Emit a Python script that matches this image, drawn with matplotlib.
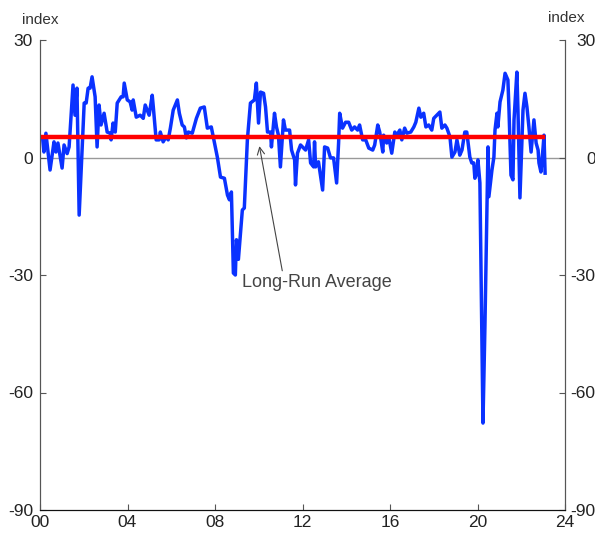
import numpy as np
import matplotlib.pyplot as plt

plt.rcParams['font.family'] = ['Liberation Sans', 'DejaVu Sans']
plt.rcParams['axes.unicode_minus'] = False

# years since 2000 and index values
years = [0.12, 0.18, 0.27, 0.46, 0.64, 0.73, 0.82, 1.01, 1.10, 1.24, 1.33, 1.51, 1.60, 1.69, 1.79,
         2.02, 2.11, 2.20, 2.29, 2.38, 2.52, 2.61, 2.70, 2.79, 2.93, 3.07, 3.21, 3.25, 3.34, 3.44,
         3.53, 3.71, 3.80, 3.85, 3.99, 4.12, 4.21, 4.26, 4.40, 4.58, 4.72, 4.81, 4.90, 4.99, 5.13,
         5.18, 5.31, 5.45, 5.50, 5.63, 5.77, 5.86, 5.96, 6.09, 6.28, 6.37, 6.50, 6.60, 6.69, 6.78,
         6.96, 7.15, 7.24, 7.33, 7.51, 7.65, 7.83, 7.92, 8.11, 8.25, 8.43, 8.57, 8.66, 8.75, 8.84,
         8.93, 8.98, 9.07, 9.25, 9.34, 9.48, 9.62, 9.80, 9.89, 9.99, 10.08, 10.22, 10.31, 10.40, 10.54,
         10.58, 10.72, 10.81, 10.90, 10.99, 11.13, 11.22, 11.41, 11.50, 11.64, 11.68, 11.77, 11.91, 12.14, 12.28,
         12.37, 12.51, 12.55, 12.60, 12.73, 12.92, 13.01, 13.15, 13.28, 13.42, 13.56, 13.65, 13.70, 13.83, 13.97,
         14.11, 14.25, 14.38, 14.52, 14.61, 14.75, 14.89, 15.03, 15.21, 15.30, 15.44, 15.53, 15.67, 15.71, 15.85,
         15.94, 16.08, 16.22, 16.31, 16.45, 16.54, 16.67, 16.77, 16.95, 17.09, 17.18, 17.32, 17.41, 17.54, 17.64,
         17.77, 17.91, 18.00, 18.14, 18.28, 18.37, 18.51, 18.60, 18.74, 18.83, 18.97, 19.06, 19.19, 19.29, 19.42,
         19.51, 19.65, 19.74, 19.83, 19.88, 19.97, 20.02, 20.11, 20.25, 20.34, 20.48, 20.52, 20.66, 20.75, 20.80,
         20.89, 20.93, 21.03, 21.16, 21.26, 21.39, 21.44, 21.53, 21.62, 21.67, 21.80, 21.85, 21.94, 22.08, 22.17,
         22.26, 22.35, 22.45, 22.54, 22.58, 22.68, 22.77, 22.81, 22.90, 23.00, 23.04, 23.09]
index = [5.0, 1.4, 6.2, -3.2, 4.0, 1.4, 3.7, -2.7, 3.2, 1.0, 2.7, 18.5, 10.8, 17.7, -14.7,
         13.9, 13.9, 17.7, 17.7, 20.6, 15.5, 2.7, 13.4, 8.3, 11.3, 6.5, 6.2, 4.5, 8.8, 6.5,
         13.9, 15.5, 15.5, 19.0, 14.7, 14.2, 12.1, 14.7, 10.3, 10.8, 10.0, 13.4, 12.1, 10.8, 15.9,
         12.9, 4.5, 4.5, 6.5, 4.0, 5.3, 4.5, 7.5, 12.1, 14.7, 11.3, 8.3, 7.8, 5.0, 6.5,
         6.2, 10.0, 11.3, 12.6, 12.9, 7.5, 7.8, 5.3, 0.0, -5.0, -5.3, -9.6, -10.8, -8.8, -29.5,
         -30.0, -21.0, -26.0, -13.4, -12.9, 4.5, 13.9, 14.7, 19.0, 8.8, 16.7, 16.4, 12.9, 6.5, 6.5,
         2.7, 11.3, 7.8, 5.7, -2.4, 9.6, 7.0, 7.0, 1.9, -0.6, -7.0, 1.1, 3.2, 1.9, 4.5,
         -1.4, -2.4, 4.0, -2.4, -1.1, -8.3, 2.7, 2.4, -0.1, -0.1, -6.5, 3.7, 11.3, 7.5, 9.0,
         9.0, 7.0, 7.8, 7.0, 8.3, 4.5, 4.5, 2.4, 1.9, 3.2, 8.3, 6.5, 1.4, 5.7, 3.7,
         5.3, 1.1, 6.5, 5.7, 7.0, 4.5, 7.5, 6.2, 6.5, 7.8, 9.0, 12.6, 10.3, 11.3, 7.8,
         8.3, 7.0, 10.0, 10.8, 11.6, 7.5, 8.3, 7.5, 5.3, 0.1, 1.4, 4.5, 0.6, 1.9, 6.5,
         6.5, 0.1, -1.4, -1.4, -5.3, -4.0, -0.6, -6.5, -67.8, -43.0, 2.7, -10.0, -3.2, 0.1, 7.0,
         11.3, 7.8, 14.2, 17.2, 21.5, 19.8, 12.1, -4.5, -5.7, 9.6, 21.8, 12.1, -10.3, 12.1, 16.4,
         12.9, 7.8, 1.4, 7.0, 9.6, 3.7, 1.9, -1.4, -3.7, 2.7, 5.7, -4.0]
long_run_avg = 5.2
avg_span = [0.0, 23.0]

xticks = [0, 4, 8, 12, 16, 20, 24]
xticklabels = ['00', '04', '08', '12', '16', '20', '24']
yticks = [-90, -60, -30, 0, 30]

fig = plt.figure(figsize=(5.95, 5.36), dpi=100)
ax = fig.add_axes([40 / 595, 26 / 536, 525 / 595, 470 / 536])

ax.axhline(0, color='#999999', lw=1, zorder=1)
ax.plot(years, index, color='#0a32ff', lw=2.5, zorder=3)
ax.plot(avg_span, [long_run_avg, long_run_avg], color='#ff0000', lw=3.2, zorder=4)

ax.annotate('Long-Run Average', xy=(10.03, 2.9), xytext=(9.25, -31.8),
            fontsize=13, color='#444444', va='center', ha='left',
            arrowprops=dict(arrowstyle='->', color='#444444', lw=0.8,
                            shrinkA=0, shrinkB=0, relpos=(0.27, 1.0)))

ax.set_xlim(0, 24)
ax.set_ylim(-90, 30)
ax.set_xticks(xticks)
ax.set_xticklabels(xticklabels)
ax.set_yticks(yticks)

ax2 = ax.twinx()
ax2.set_ylim(-90, 30)
ax2.set_yticks(yticks)

for a in (ax, ax2):
    a.spines['top'].set_visible(False)
    a.spines['left'].set_color('#555555')
    a.spines['right'].set_color('#555555')
    a.spines['bottom'].set_color('#111111')
    a.tick_params(direction='in', length=4, width=0.8, colors='#555555',
                  labelsize=12.5, labelcolor='#222222')
ax.tick_params(axis='y', pad=5)
ax.tick_params(axis='x', pad=3.5)
# right-hand labels are right-aligned and run off the figure edge, as in the original
ax2.tick_params(axis='y', pad=22)
for lbl in ax2.get_yticklabels():
    lbl.set_horizontalalignment('right')

fig.text(40 / 595, 1 - 20 / 536, 'index', ha='center', va='center', fontsize=11, color='#333333')
fig.text(566 / 595, 1 - 18 / 536, 'index', ha='center', va='center', fontsize=11, color='#333333')

fig.savefig('out.png', dpi=100)
